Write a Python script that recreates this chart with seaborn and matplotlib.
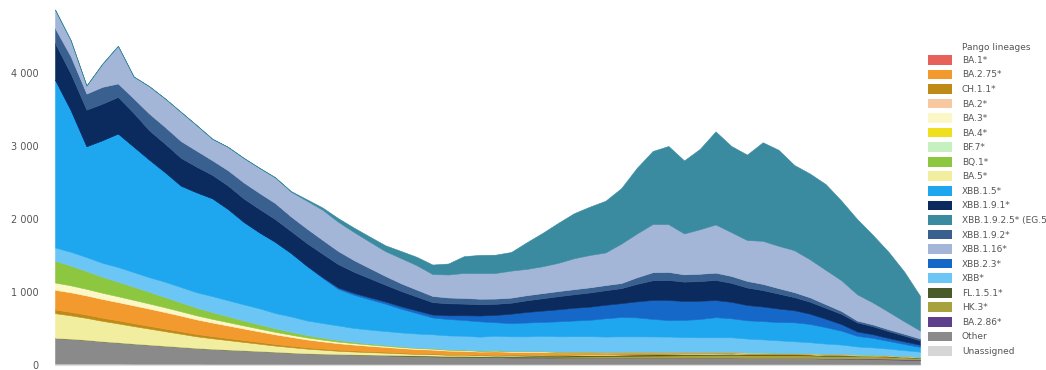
import matplotlib
matplotlib.use("Agg")
import numpy as np
import pandas as pd
import seaborn as sns
import matplotlib.pyplot as plt
from matplotlib.patches import Patch
from matplotlib.ticker import FuncFormatter

sns.set_theme(style="white")
plt.rcParams['font.family'] = ['DejaVu Sans']

# ---------------- data (weekly counts per lineage, stacked) ----------------
weeks = list(range(56))

unassigned = [20, 20, 20, 20, 20, 18, 18, 18, 18, 18, 16, 16, 16, 16, 16, 15, 15, 15, 15, 15,
              14, 14, 14, 14, 14, 14, 14, 14, 14, 14, 14, 14, 14, 14, 14, 14, 14, 14, 14, 14,
              14, 14, 14, 14, 14, 14, 14, 14, 14, 14, 13, 13, 12, 12, 11, 10]
other = [350, 340, 325, 305, 290, 275, 260, 245, 230, 215, 205, 195, 185, 175, 165, 155, 145, 140, 135, 130,
         125, 120, 115, 110, 105, 100, 100, 95, 95, 90, 90, 90, 85, 85, 85, 85, 85, 85, 85, 85,
         85, 85, 85, 85, 80, 80, 80, 80, 80, 75, 75, 70, 70, 65, 60, 55]
ba286 = [0, 0, 0, 0, 0, 0, 0, 0, 0, 0, 0, 0, 0, 0, 0, 0, 0, 0, 0, 0,
         0, 0, 0, 0, 0, 0, 0, 0, 0, 0, 0, 0, 0, 0, 0, 0, 0, 0, 0, 0,
         0, 0, 0, 0, 0, 0, 0, 0, 0, 0, 3, 5, 8, 10, 10, 10]
hk3 = [0, 0, 0, 0, 0, 0, 0, 0, 0, 0, 0, 0, 0, 0, 0, 0, 0, 0, 0, 0,
       0, 0, 0, 0, 0, 0, 0, 0, 5, 8, 10, 12, 15, 18, 20, 22, 25, 28, 30, 32,
       35, 35, 38, 40, 40, 40, 40, 40, 38, 36, 34, 32, 30, 28, 25, 22]
fl151 = [0, 0, 0, 0, 0, 0, 0, 0, 0, 0, 0, 0, 0, 0, 0, 0, 0, 0, 0, 0,
         3, 5, 6, 8, 10, 10, 12, 12, 14, 14, 15, 15, 16, 16, 17, 17, 18, 18, 18, 18,
         18, 18, 17, 17, 16, 16, 15, 14, 13, 12, 11, 10, 9, 8, 7, 6]
ba5 = [340, 320, 300, 280, 260, 240, 220, 200, 180, 160, 145, 130, 115, 100, 85, 75, 65, 55, 45, 40,
       35, 30, 25, 20, 20, 15, 15, 12, 12, 10, 10, 10, 8, 8, 8, 6, 6, 6, 5, 5,
       5, 5, 5, 4, 4, 4, 4, 3, 3, 3, 3, 3, 2, 2, 2, 2]
ch11 = [50, 48, 46, 44, 42, 40, 38, 36, 34, 32, 30, 28, 26, 24, 22, 20, 18, 17, 16, 15,
        14, 13, 12, 11, 10, 10, 9, 9, 8, 8, 7, 7, 6, 6, 6, 5, 5, 5, 5, 4,
        4, 4, 4, 4, 3, 3, 3, 3, 3, 3, 2, 2, 2, 2, 2, 2]
ba275 = [270, 268, 262, 256, 250, 244, 236, 226, 214, 200, 186, 172, 158, 145, 132, 120, 108, 97, 88, 80,
         72, 66, 60, 56, 52, 48, 45, 42, 40, 37, 35, 32, 30, 28, 26, 24, 22, 20, 18, 16,
         15, 14, 13, 12, 11, 10, 9, 8, 8, 7, 6, 6, 5, 5, 4, 4]
ba3 = [100, 95, 90, 85, 80, 75, 70, 65, 60, 55, 50, 46, 42, 38, 34, 30, 27, 24, 21, 19,
       17, 15, 14, 13, 12, 11, 10, 9, 8, 8, 7, 7, 6, 6, 5, 5, 5, 4, 4, 4,
       4, 3, 3, 3, 3, 3, 2, 2, 2, 2, 2, 2, 2, 1, 1, 1]
bq1 = [300, 270, 245, 220, 200, 180, 160, 140, 122, 106, 92, 80, 68, 58, 48, 40, 33, 27, 22, 18,
       15, 12, 10, 9, 8, 7, 6, 5, 5, 4, 4, 3, 3, 3, 3, 2, 2, 2, 2, 2,
       2, 2, 1, 1, 1, 1, 1, 1, 1, 1, 1, 1, 1, 1, 1, 1]
xbb = [180, 190, 190, 190, 200, 200, 200, 210, 210, 210, 220, 220, 220, 220, 210, 210, 200, 200, 200, 190,
       190, 190, 190, 190, 190, 190, 190, 190, 200, 200, 200, 210, 210, 210, 210, 210, 210, 210, 210, 210,
       200, 200, 200, 200, 190, 180, 170, 160, 150, 140, 130, 110, 100, 90, 80, 70]
xbb15 = [2300, 1940, 1520, 1680, 1830, 1720, 1610, 1500, 1390, 1370, 1340, 1250, 1130, 1040, 975, 870, 750, 620, 500, 455,
         415, 375, 325, 280, 230, 225, 215, 210, 185, 180, 190, 190, 205, 215, 225, 250, 265, 260, 240, 225,
         235, 250, 275, 260, 250, 250, 250, 260, 250, 225, 190, 145, 130, 105, 85, 65]
xbb23 = [0, 0, 0, 0, 0, 0, 0, 0, 0, 0, 0, 0, 0, 0, 0, 0, 0, 10, 20, 25,
         28, 30, 33, 36, 40, 50, 65, 80, 100, 130, 145, 155, 165, 175, 180, 185, 190, 220, 260, 275,
         260, 250, 235, 225, 210, 200, 185, 165, 140, 115, 90, 60, 50, 40, 35, 30]
xbb191 = [500, 500, 500, 500, 500, 460, 400, 390, 380, 350, 320, 320, 320, 320, 310, 300, 310, 320, 320, 290,
          260, 230, 210, 190, 170, 165, 160, 155, 152, 150, 160, 170, 180, 185, 195, 200, 206, 240, 270, 275,
          265, 270, 275, 260, 240, 225, 205, 180, 165, 150, 140, 125, 110, 95, 80, 60]
xbb192 = [205, 236, 220, 230, 185, 200, 230, 230, 230, 220, 200, 210, 220, 220, 220, 200, 200, 190, 180, 160,
          140, 120, 105, 95, 85, 80, 78, 75, 72, 70, 70, 70, 70, 70, 70, 70, 70, 90, 110, 110,
          100, 100, 100, 95, 90, 85, 75, 68, 60, 50, 40, 25, 25, 25, 25, 25]
xbb116 = [254, 220, 110, 315, 515, 300, 375, 390, 400, 350, 295, 320, 336, 344, 353, 340, 380, 413, 400, 385,
          362, 340, 345, 334, 300, 315, 342, 350, 351, 370, 360, 368, 387, 424, 443, 447, 540, 600, 660, 655,
          560, 610, 660, 600, 560, 590, 580, 575, 520, 470, 420, 360, 300, 240, 170, 110]
eg5 = [0, 0, 0, 0, 0, 0, 0, 0, 0, 0, 0, 0, 0, 0, 0, 8, 20, 30, 50, 60,
       70, 80, 97, 115, 130, 150, 230, 250, 250, 255, 365, 457, 548, 616, 662, 708, 759, 900, 1000, 1070,
       1000, 1100, 1275, 1180, 1170, 1350, 1315, 1167, 1175, 1175, 1090, 1030, 925, 820, 680, 475]

legend_labels = ["BA.1*", "BA.2.75*", "CH.1.1*", "BA.2*", "BA.3*", "BA.4*", "BF.7*", "BQ.1*", "BA.5*",
                 "XBB.1.5*", "XBB.1.9.1*", "XBB.1.9.2.5* (EG.5*)", "XBB.1.9.2*", "XBB.1.16*", "XBB.2.3*",
                 "XBB*", "FL.1.5.1*", "HK.3*", "BA.2.86*", "Other", "Unassigned"]
legend_colors = ["#e8605a", "#f39a2e", "#bf8a16", "#f8c9a0", "#fbf7c6", "#f0de20", "#c6f0c0", "#8dc63f", "#f1eea0",
                 "#1ea7ee", "#0b2a5e", "#3a8aa0", "#3a6090", "#a3b6d8", "#1668c8",
                 "#6cc6f5", "#4b5a2a", "#a8a23e", "#5e3f8c", "#8a8a8a", "#d6d6d6"]
palette = dict(zip(legend_labels, legend_colors))

# stacking order, bottom to top
df = pd.DataFrame({
    "Unassigned": unassigned, "Other": other, "BA.2.86*": ba286, "HK.3*": hk3, "FL.1.5.1*": fl151,
    "BA.5*": ba5, "CH.1.1*": ch11, "BA.2.75*": ba275, "BA.3*": ba3, "BQ.1*": bq1, "XBB*": xbb,
    "XBB.1.5*": xbb15, "XBB.2.3*": xbb23, "XBB.1.9.1*": xbb191, "XBB.1.9.2*": xbb192,
    "XBB.1.16*": xbb116, "XBB.1.9.2.5* (EG.5*)": eg5,
}, index=weeks)

# ---------------- figure ----------------
W, H = 1046, 370
fig = plt.figure(figsize=(W / 100, H / 100), dpi=100)
fig.patch.set_facecolor("white")
ymax = 4950
ax = fig.add_axes([55 / W, 5 / H, 865 / W, ymax * 0.073 / H])

cols = list(df.columns)
polys = ax.stackplot(df.index, [df[c].values for c in cols],
                     colors=[palette[c] for c in cols], linewidth=0)
for p, c in zip(polys, cols):
    p.set_edgecolor(palette[c])
    p.set_linewidth(0.4)

ax.set_xlim(0, 55)
ax.set_ylim(0, ymax)
ax.set_yticks([0, 1000, 2000, 3000, 4000])
ax.yaxis.set_major_formatter(FuncFormatter(lambda v, _: f"{int(v):,}".replace(",", " ")))
ax.set_xticks([])
ax.tick_params(axis="y", labelsize=7, colors="#555555", length=0, pad=12)
for s in ["top", "right", "left"]:
    ax.spines[s].set_visible(False)
ax.spines["bottom"].set_color("#dddddd")
ax.spines["bottom"].set_linewidth(0.8)
ax.grid(False)

handles = [Patch(facecolor=c, edgecolor="none") for c in legend_colors]
fs = 6.5
fig.legend(handles, legend_labels, loc="upper left",
           bbox_to_anchor=(928 / W, 1 - 55 / H), frameon=False, fontsize=fs,
           handlelength=2.66, handleheight=1.27, labelspacing=0.52,
           handletextpad=1.1, borderpad=0, borderaxespad=0, labelcolor="#555555")
fig.text(962 / W, 1 - 47 / H, "Pango lineages", fontsize=fs, color="#555555", va="center", ha="left")

fig.savefig("out.png", dpi=100, facecolor="white")
